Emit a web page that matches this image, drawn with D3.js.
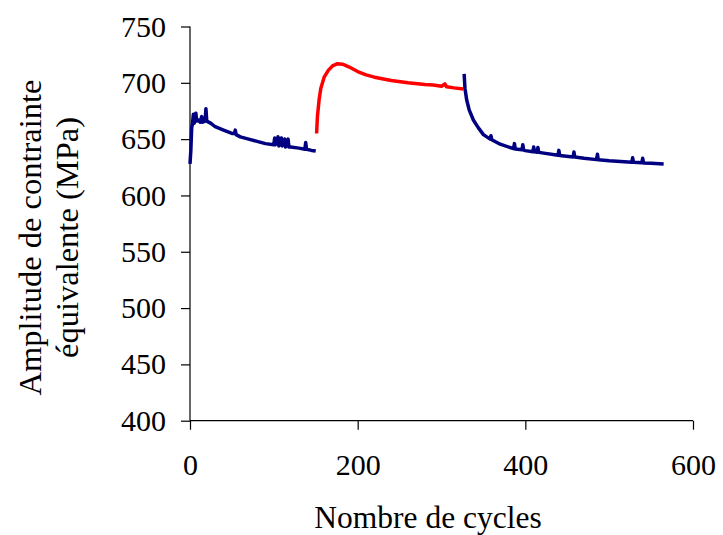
<!DOCTYPE html>
<html><head><meta charset="utf-8">
<script src="https://cdn.jsdelivr.net/npm/d3@7"></script>
<style>body{margin:0;background:#fff}svg{display:block}text{font-family:"Liberation Serif","Times New Roman",serif;fill:#000}</style>
</head><body><svg id="c" width="723" height="535"></svg>
<script>
const xTicks = [0, 200, 400, 600];
const yTicks = [400, 450, 500, 550, 600, 650, 700, 750];
const xTitle = "Nombre de cycles";
const yTitle = ["Amplitude de contrainte", "équivalente (MPa)"];

// Segment 1 (blue)
const blue1X = [0,1,2,3,4,5,6,7,8,10,12,14,15,18,19,20,25,30,40,50,53,54,55,60,70,80,90,100,101,102,105,106,109,110,113,114,117,118,120,130,137,138,139,145,150];
const blue1Y = [628,640,660,664,672,664,670,673,666,667,665,670,665,666,677,666,664,661,658,655,655,658,654,652,650,648,646,645,651,645,652,644,651,644,650,643,650,643,643,642,641,647,641,640,639.5];
// Segment 2 (red)
const redX = [151,152,154,156,160,165,170,176,182,190,200,210,220,240,260,280,290,300,304,306,315,326];
const redY = [655,670,685,695,705,711,715,717,716.5,714,710,707,705,702,700,698.5,698,697,699,696.5,695.5,694.5];
// Segment 3 (blue)
const blue2X = [327,328,330,333,338,344,350,358,359,360,370,386,387,388,396,397,398,400,409,410,411,414,415,416,420,439,440,441,457,458,459,470,485,486,487,500,527,528,529,539,540,541,550,565];
const blue2Y = [708,695,685,676,667,660,654,650,653,649.5,645.5,641.5,646,641.3,640.5,645,640.3,639.8,638.8,643,638.7,638.4,642.5,638.3,637.8,635.6,640,635.5,634.2,638.5,634.1,633,631.8,636.5,631.7,630.8,629.5,633.5,629.4,629,633,628.9,628.6,628];

const svg = d3.select("#c");
const x = d3.scaleLinear().domain([0, 600]).range([190, 693]);
const y = d3.scaleLinear().domain([400, 750]).range([420.7, 26.5]);

const xAxis = svg.append("g").attr("transform", "translate(0,420.7)")
  .call(d3.axisBottom(x).tickValues(xTicks).tickSize(9).tickPadding(24).tickFormat(d3.format("d")));
const yAxis = svg.append("g").attr("transform", "translate(190,0)")
  .call(d3.axisLeft(y).tickValues(yTicks).tickSize(9).tickPadding(15).tickFormat(d3.format("d")));
[xAxis, yAxis].forEach(g => {
  g.selectAll("path").attr("stroke", "#000").attr("stroke-width", 1.2);
  g.selectAll("line").attr("stroke", "#000").attr("stroke-width", 1.2);
  g.selectAll("text").attr("font-size", 30).attr("font-family", "Liberation Serif");
});
xAxis.select(".domain").attr("d", "M190,0H693");
yAxis.select(".domain").attr("d", "M0,26.5V420.7");

const line = d3.line().x(d => x(d[0])).y(d => y(d[1]));
const segs = [
  {xs: blue1X, ys: blue1Y, c: "#000080"},
  {xs: redX, ys: redY, c: "#ff0000"},
  {xs: blue2X, ys: blue2Y, c: "#000080"}
];
segs.forEach(s => {
  svg.append("path").datum(s.xs.map((v, i) => [v, s.ys[i]]))
    .attr("d", line).attr("fill", "none").attr("stroke", s.c)
    .attr("stroke-width", 3.5).attr("stroke-linejoin", "round");
});

svg.append("text").attr("x", 428).attr("y", 528).attr("text-anchor", "middle")
  .attr("font-size", 31.5).text(xTitle);
const yt = svg.append("text").attr("transform", "translate(0,237.5) rotate(-90)")
  .attr("text-anchor", "middle").attr("font-size", 32.5);
yt.append("tspan").attr("x", 0).attr("y", 41).text(yTitle[0]);
yt.append("tspan").attr("x", 0).attr("y", 78).text(yTitle[1]);
</script></body></html>
